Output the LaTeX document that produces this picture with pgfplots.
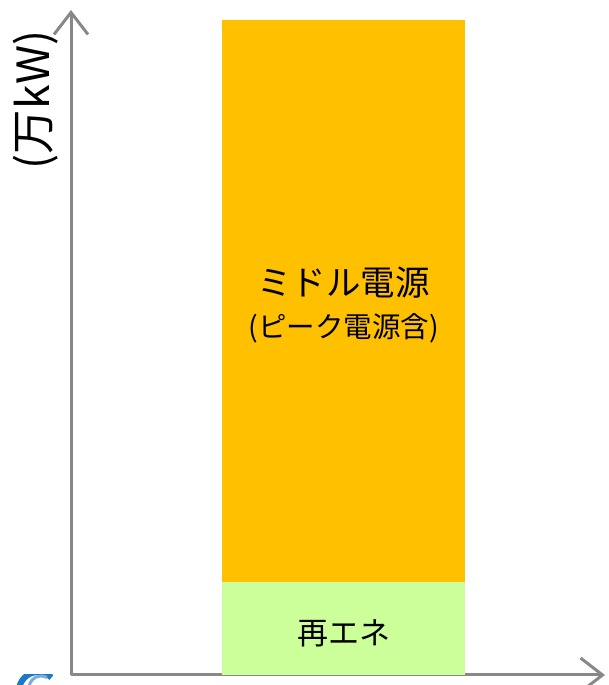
\documentclass[border=0pt]{standalone}
\usepackage{pgfplots}
\pgfplotsset{compat=1.18}
\usepackage{fontspec}
\setmainfont{Noto Sans CJK JP}
\usetikzlibrary{arrows.meta}
\definecolor{midcol}{HTML}{FFC000}
\definecolor{rencol}{HTML}{CCFF99}
\definecolor{axgray}{HTML}{888888}
\definecolor{logoblue}{HTML}{1E78C8}
\begin{document}
\begin{tikzpicture}[x=1pt,y=1pt]
\useasboundingbox (-71pt,-10pt) rectangle (538pt,675pt);
\begin{axis}[
  at={(0pt,0pt)}, anchor=south west,
  scale only axis,
  width=534pt, height=665pt,
  xmin=0, xmax=534, ymin=0, ymax=665,
  axis x line=bottom, axis y line=left,
  axis line style={axgray, line width=3pt, -{Straight Barb[length=22pt,width=34pt,line width=3pt]}},
  xtick=\empty, ytick=\empty,
  clip=false,
  ybar stacked, bar width=243,
]
\addplot[fill=rencol, draw=none] coordinates {(272.5,93)};
\addplot[fill=midcol, draw=none] coordinates {(272.5,562)};
\coordinate (t1) at (axis cs:272.5,392);
\coordinate (t2) at (axis cs:272.5,347);
\coordinate (t3) at (axis cs:272.5,42);
\coordinate (yl) at (axis cs:-35,575);
\end{axis}
\node[font=\fontsize{34.5}{37}\selectfont] at (t1) {ミドル電源};
\node[font=\fontsize{28.5}{31}\selectfont] at (t2) {(ピーク電源含)};
\node[font=\fontsize{31}{33}\selectfont] at (t3) {再エネ};
\node[rotate=90, font=\fontsize{44.5}{46}\selectfont] at (yl) {(万kW)};
\begin{scope}
\clip (-71pt,-10pt) rectangle (0pt,0pt);
\draw[logoblue, line width=6pt] (-52pt,-16pt) arc[start angle=180, end angle=45, radius=19pt];
\draw[logoblue!60, line width=3pt] (-42pt,-13pt) arc[start angle=180, end angle=60, radius=12pt];
\end{scope}
\end{tikzpicture}
\end{document}
